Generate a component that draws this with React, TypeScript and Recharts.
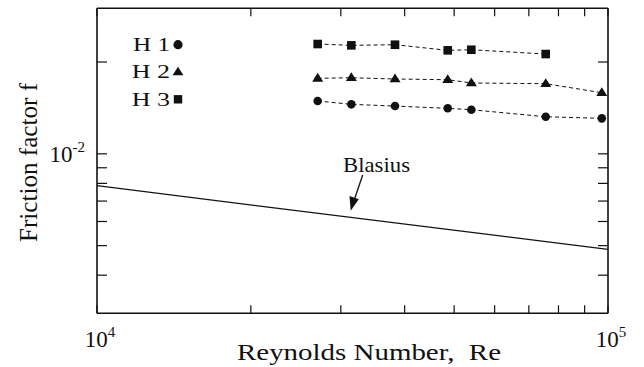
import React from "react";
import {
  ScatterChart,
  Scatter,
  XAxis,
  YAxis,
  Customized,
} from "recharts";

// ---- data ----
const reH = [27030, 31460, 38300, 48570, 54020, 75530, 97240];
const fH1 = [0.0149, 0.01453, 0.01434, 0.0141, 0.01395, 0.01323, 0.01307];
const fH2 = [0.01768, 0.01776, 0.01759, 0.0175, 0.01707, 0.01698, 0.01586];
const reH3 = [27030, 31460, 38300, 48570, 54020, 75530];
const fH3 = [0.02291, 0.02268, 0.02279, 0.02184, 0.02194, 0.02124];
const reBlasius = [10000, 100000];
const fBlasius = [0.00786, 0.00486];

const xTicks = [10000, 20000, 30000, 40000, 50000, 60000, 70000, 80000, 90000, 100000];
const xTickLabels: Record<number, string> = { 10000: "4", 100000: "5" };
const yTicks = [0.004, 0.005, 0.006, 0.007, 0.008, 0.009, 0.01, 0.02];
const yTickLabels: Record<number, string> = { 0.01: "-2" };
const legendItems = ["H 1", "H 2", "H 3"];

const toPts = (xs: number[], ys: number[]) => xs.map((x, i) => ({ x, y: ys[i] }));
const h1 = toPts(reH, fH1);
const h2 = toPts(reH, fH2);
const h3 = toPts(reH3, fH3);
const blasius = toPts(reBlasius, fBlasius);

// ---- layout ----
const W = 644;
const H = 367;
const PLOT_LEFT = 97;
const PLOT_RIGHT = 608;
const PLOT_TOP = 8.3;
const PLOT_BOTTOM = 313.3;
const Y_AXIS_W = 60;
const X_AXIS_H = 30;
const TOP_AXIS_H = 1;
const RIGHT_AXIS_W = 1;
const FONT = "'Liberation Serif', 'Times New Roman', serif";
const INK = "#111";

const CircleShape = (p: any) => <circle cx={p.cx} cy={p.cy} r={4.3} fill={INK} />;
const SquareShape = (p: any) => (
  <rect x={p.cx - 4.3} y={p.cy - 4.3} width={8.6} height={8.6} fill={INK} />
);
const TriangleShape = (p: any) => (
  <polygon
    points={`${p.cx},${p.cy - 5.5} ${p.cx + 5.5},${p.cy + 3.3} ${p.cx - 5.5},${p.cy + 3.3}`}
    fill={INK}
  />
);
const NoShape = () => <g />;

const XTick = (props: any) => {
  const { x, payload } = props;
  const exp = xTickLabels[payload.value];
  if (!exp) return <g />;
  return (
    <text x={x + 3} y={PLOT_BOTTOM + 34} textAnchor="middle" fontFamily={FONT} fontSize={23} fill={INK} stroke="none" style={{ fill: INK }}>
      <tspan>10</tspan>
      <tspan dy={-10} fontSize={15}>{exp}</tspan>
    </text>
  );
};

const YTick = (props: any) => {
  const { y, payload } = props;
  const exp = yTickLabels[payload.value];
  if (!exp) return <g />;
  return (
    <text x={PLOT_LEFT - 12} y={y + 8} textAnchor="end" fontFamily={FONT} fontSize={23} fill={INK} stroke="none" style={{ fill: INK }}>
      <tspan>10</tspan>
      <tspan dy={-10} fontSize={15}>{exp}</tspan>
    </text>
  );
};

const Empty = () => <g />;

const Decorations = () => {
  const lx = 178;
  const rows = [44.7, 71.7, 99.3];
  const baselines = [50.7, 78.3, 106];
  return (
    <g>
      {legendItems.map((t, i) => (
        <text
          key={t}
          x={i === 0 ? 133 : 131.7}
          y={baselines[i]}
          fontFamily={FONT}
          fontSize={18.6}
          fill={INK}
          textLength={i === 0 ? 37 : 38.3}
          lengthAdjust="spacingAndGlyphs"
        >
          {t}
        </text>
      ))}
      <circle cx={lx} cy={rows[0]} r={4.6} fill={INK} />
      <polygon points={`${lx},${rows[1] - 5} ${lx + 5.4},${rows[1] + 3.5} ${lx - 5.4},${rows[1] + 3.5}`} fill={INK} />
      <rect x={lx - 4.2} y={rows[2] - 4.2} width={8.4} height={8.4} fill={INK} />

      <text x={343} y={171.7} fontFamily={FONT} fontSize={22} fill={INK} textLength={67} lengthAdjust="spacingAndGlyphs">
        Blasius
      </text>
      <line x1={362.7} y1={175} x2={354.5} y2={199} stroke={INK} strokeWidth={1.3} />
      <polygon points="350.7,210.7 349.5,196 358.8,199.2" fill={INK} />

      <text
        x={237}
        y={360}
        fontFamily={FONT}
        fontSize={22.6}
        fill={INK}
        textLength={264}
        lengthAdjust="spacingAndGlyphs"
        style={{ whiteSpace: "pre" }}
      >
        {"Reynolds Number,  Re"}
      </text>
      <text
        transform="translate(37,162.5) rotate(-90)"
        x={0}
        y={0}
        textAnchor="middle"
        fontFamily={FONT}
        fontSize={25}
        fill={INK}
        textLength={159}
        lengthAdjust="spacingAndGlyphs"
      >
        Friction factor f
      </text>
    </g>
  );
};

export default function App() {
  const axisLine = { stroke: INK, strokeWidth: 1.6 };
  const tickLine = { stroke: INK, strokeWidth: 1.2 };
  return (
    <div style={{ position: "absolute", left: 0, top: 0, width: W, height: H, background: "#fff" }}>
      <ScatterChart
        width={W}
        height={H}
        margin={{
          top: PLOT_TOP - TOP_AXIS_H,
          right: W - PLOT_RIGHT - RIGHT_AXIS_W,
          bottom: H - PLOT_BOTTOM - X_AXIS_H,
          left: PLOT_LEFT - Y_AXIS_W,
        }}
      >
        <XAxis
          xAxisId={0}
          type="number"
          dataKey="x"
          scale="log"
          domain={[10000, 100000]}
          allowDataOverflow
          ticks={xTicks}
          interval={0}
          height={X_AXIS_H}
          tickSize={-8}
          tickMargin={0}
          axisLine={axisLine}
          tickLine={tickLine}
          tick={<XTick />}
        />
        <XAxis
          xAxisId="top"
          orientation="top"
          type="number"
          dataKey="x"
          scale="log"
          domain={[10000, 100000]}
          allowDataOverflow
          ticks={xTicks}
          interval={0}
          height={TOP_AXIS_H}
          tickSize={-8}
          axisLine={axisLine}
          tickLine={tickLine}
          tick={<Empty />}
        />
        <YAxis
          yAxisId={0}
          type="number"
          dataKey="y"
          scale="log"
          domain={[0.003, 0.03]}
          allowDataOverflow
          ticks={yTicks}
          interval={0}
          width={Y_AXIS_W}
          tickSize={-10}
          tickMargin={0}
          axisLine={axisLine}
          tickLine={tickLine}
          tick={<YTick />}
        />
        <YAxis
          yAxisId="right"
          orientation="right"
          type="number"
          dataKey="y"
          scale="log"
          domain={[0.003, 0.03]}
          allowDataOverflow
          ticks={yTicks}
          interval={0}
          width={RIGHT_AXIS_W}
          tickSize={-10}
          axisLine={axisLine}
          tickLine={tickLine}
          tick={<Empty />}
        />
        <Scatter
          data={blasius}
          line={{ stroke: INK, strokeWidth: 1.2 }}
          shape={NoShape}
          isAnimationActive={false}
        />
        <Scatter
          xAxisId="top"
          yAxisId="right"
          data={blasius}
          shape={NoShape}
          isAnimationActive={false}
        />
        <Scatter
          data={h3}
          line={{ stroke: INK, strokeWidth: 1, strokeDasharray: "4 3" }}
          shape={SquareShape}
          isAnimationActive={false}
        />
        <Scatter
          data={h2}
          line={{ stroke: INK, strokeWidth: 1, strokeDasharray: "4 3" }}
          shape={TriangleShape}
          isAnimationActive={false}
        />
        <Scatter
          data={h1}
          line={{ stroke: INK, strokeWidth: 1, strokeDasharray: "4 3" }}
          shape={CircleShape}
          isAnimationActive={false}
        />
        <Customized component={Decorations} />
      </ScatterChart>
    </div>
  );
}
